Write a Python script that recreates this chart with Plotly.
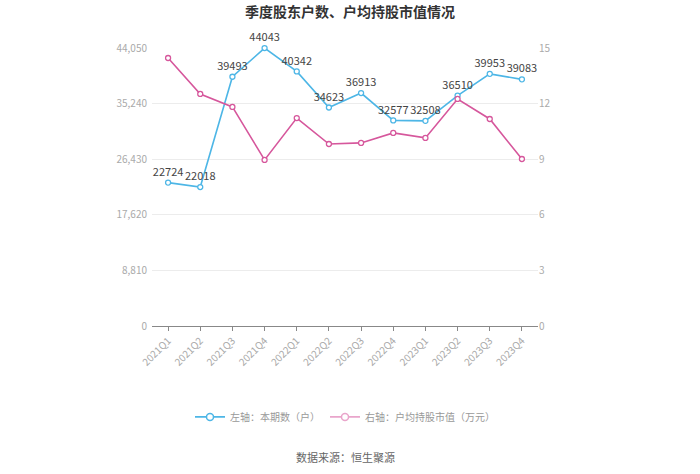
"""
Quarterly shareholder count vs. average holding value per shareholder.
"""

import plotly.graph_objects as go

quarters = [
    "2021Q1", "2021Q2", "2021Q3", "2021Q4",
    "2022Q1", "2022Q2", "2022Q3", "2022Q4",
    "2023Q1", "2023Q2", "2023Q3", "2023Q4",
]
holders = [22724, 22018, 39493, 44043, 40342, 34623, 36913, 32577, 32508, 36510, 39953, 39083]
avg_value = [14.46, 12.52, 11.82, 8.96, 11.22, 9.82, 9.88, 10.42, 10.15, 12.25, 11.17, 9.01]

left_ticks = [0, 8810, 17620, 26430, 35240, 44050]
right_ticks = [0, 3, 6, 9, 12, 15]

BLUE = "#4db6e6"
PINK = "#d6579c"
PINK_LEGEND = "#e9a5cb"
FONT = "Noto Sans CJK SC"
NAME_LEFT = "左轴：本期数（户）"
NAME_RIGHT = "右轴：户均持股市值（万元）"

fig = go.Figure()

fig.add_trace(
    go.Scatter(
        x=quarters,
        y=holders,
        name=NAME_LEFT,
        mode="lines+markers+text",
        line={"color": BLUE, "width": 1.6},
        marker={"symbol": "circle", "size": 5, "color": "white",
                "line": {"color": BLUE, "width": 1.3}},
        text=[str(v) for v in holders],
        textposition="top center",
        textfont={"size": 11, "color": "#444444", "family": FONT},
        cliponaxis=False,
        showlegend=False,
        yaxis="y",
    )
)

fig.add_trace(
    go.Scatter(
        x=quarters,
        y=avg_value,
        name=NAME_RIGHT,
        mode="lines+markers",
        line={"color": PINK, "width": 1.6},
        marker={"symbol": "circle", "size": 5, "color": "white",
                "line": {"color": PINK, "width": 1.3}},
        cliponaxis=False,
        showlegend=False,
        yaxis="y2",
    )
)

# legend-only entries (bigger ring, lighter pink), as in the source chart
for name, color, axis in [(NAME_LEFT, BLUE, "y"), (NAME_RIGHT, PINK_LEGEND, "y2")]:
    fig.add_trace(
        go.Scatter(
            x=[None],
            y=[None],
            name=name,
            mode="lines+markers",
            line={"color": color, "width": 1.6},
            marker={"symbol": "circle", "size": 7, "color": "white",
                    "line": {"color": color, "width": 1.5}},
            yaxis=axis,
        )
    )

fig.update_layout(
    width=700,
    height=474,
    paper_bgcolor="white",
    plot_bgcolor="white",
    font={"family": FONT, "color": "#999999", "size": 11},
    margin={"l": 152, "r": 162, "t": 48, "b": 148, "autoexpand": False},
    title={
        "text": "<b>季度股东户数、户均持股市值情况</b>",
        "x": 0.5,
        "xanchor": "center",
        "y": 0.975,
        "yanchor": "middle",
        "font": {"size": 14, "color": "#333333", "family": FONT},
    },
    xaxis={
        "type": "category",
        "range": [-0.5, len(quarters) - 0.5],
        "tickangle": -45,
        "showgrid": False,
        "showline": True,
        "linecolor": "#888888",
        "ticks": "outside",
        "ticklen": 4,
        "tickcolor": "#888888",
        "tickfont": {"size": 10, "color": "#aaaaaa"},
        "automargin": False,
    },
    yaxis={
        "range": [0, 44050],
        "tickvals": left_ticks,
        "tickformat": ",d",
        "showgrid": True,
        "gridcolor": "#ececec",
        "zeroline": False,
        "tickfont": {"size": 10, "color": "#aaaaaa"},
        "ticks": "",
        "ticklabelstandoff": 4,
        "automargin": False,
    },
    yaxis2={
        "range": [0, 15],
        "tickvals": right_ticks,
        "overlaying": "y",
        "side": "right",
        "showgrid": False,
        "zeroline": False,
        "tickfont": {"size": 10, "color": "#aaaaaa"},
        "automargin": False,
    },
    showlegend=True,
    legend={
        "orientation": "h",
        "x": 0.5,
        "xanchor": "center",
        "y": -0.327,
        "yanchor": "middle",
        "font": {"size": 10, "color": "#999999", "family": FONT},
    },
    annotations=[
        {
            "text": "数据来源：恒生聚源",
            "xref": "paper",
            "yref": "paper",
            "x": 0.5,
            "y": -0.471,
            "xanchor": "center",
            "yanchor": "middle",
            "showarrow": False,
            "font": {"size": 11, "color": "#666666", "family": FONT},
        }
    ],
)

# drop the default page margin so the figure sits at the window's corner
fig.write_html(
    "out.html",
    config={"displayModeBar": False},
    post_script="document.body.style.margin='0';document.body.style.overflow='hidden';",
)
